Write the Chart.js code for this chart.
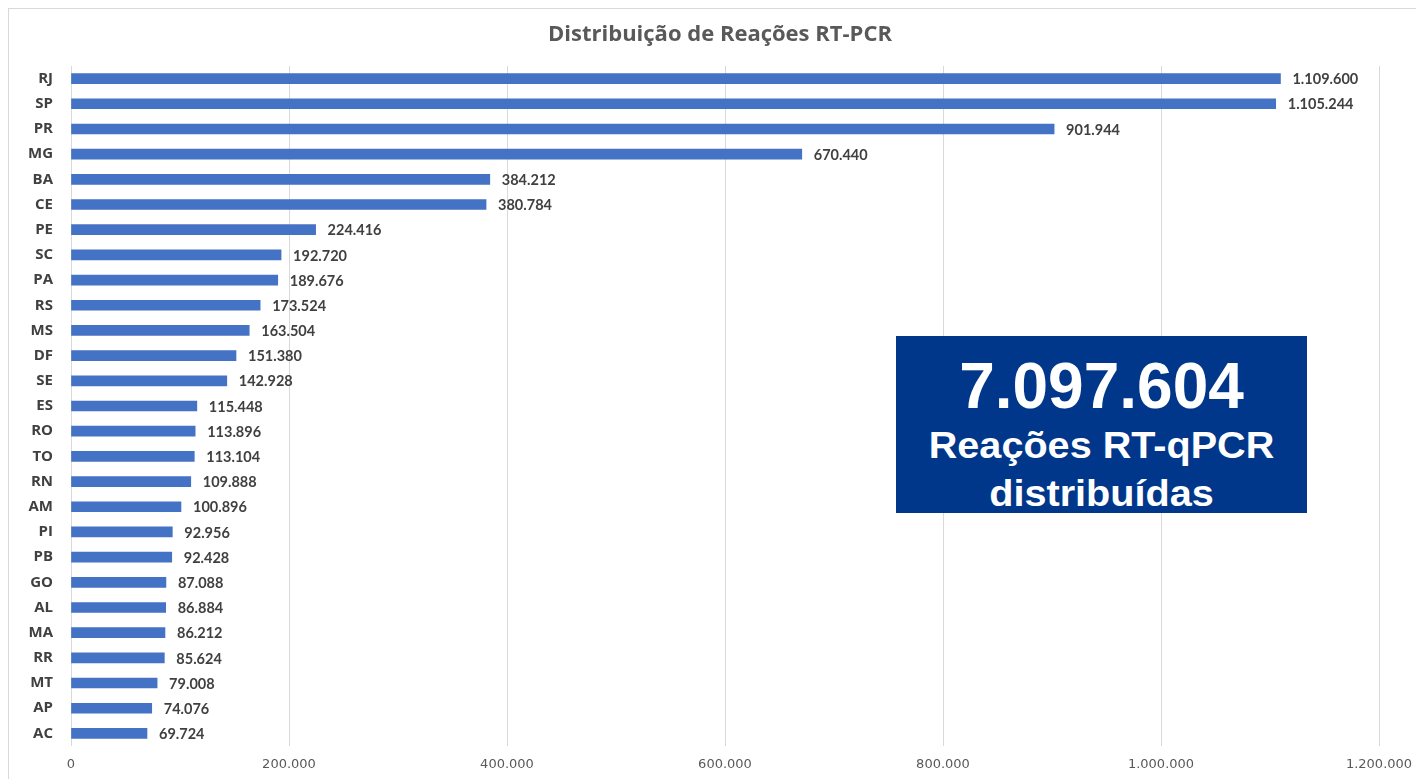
<!DOCTYPE html>
<html>
<head>
<meta charset="utf-8">
<script src="https://cdn.jsdelivr.net/npm/chart.js@4.4.1/dist/chart.umd.min.js"></script>
<style>
    body { margin: 0; background: #fff; }
    #wrap { position: relative; width: 1416px; height: 779px; overflow: hidden; }
    #frame { position: absolute; left: 8px; top: 8px; width: 1500px; height: 800px; border: 1px solid #d9d9d9; box-sizing: border-box; }
    #totalBox { position: absolute; left: 896px; top: 336px; width: 411px; height: 177px; background: #00378a; color: #fff;
        font-family: "Liberation Sans", Arial, sans-serif; font-weight: bold; text-align: center; overflow: hidden; }
    #totalBox .big { position: absolute; left: 0; right: 0; top: 18px; font-size: 64px; line-height: 64px; }
    #totalBox .small { position: absolute; left: 0; right: 0; font-size: 36px; line-height: 36px; transform: scaleX(1.1); }
</style>
</head>
<body>
<div id="wrap">
    <div id="frame"></div>
    <canvas id="reacoesChart"></canvas>
    <div id="totalBox">
        <div class="big" id="totalValue"></div>
        <div class="small" style="top:92px">Reações RT-qPCR</div>
        <div class="small" style="top:140px">distribuídas</div>
    </div>
</div>
<script>
// Dados por UF
const estados = ['RJ', 'SP', 'PR', 'MG', 'BA', 'CE', 'PE', 'SC', 'PA', 'RS', 'MS', 'DF', 'SE', 'ES',
    'RO', 'TO', 'RN', 'AM', 'PI', 'PB', 'GO', 'AL', 'MA', 'RR', 'MT', 'AP', 'AC'];
const reacoes = [1109600, 1105244, 901944, 670440, 384212, 380784, 224416, 192720, 189676, 173524, 163504,
    151380, 142928, 115448, 113896, 113104, 109888, 100896, 92956, 92428, 87088, 86884, 86212, 85624,
    79008, 74076, 69724];
const eixoX = [0, 200000, 400000, 600000, 800000, 1000000, 1200000];
const titulo = 'Distribuição de Reações RT-PCR';
const totalDistribuido = '7.097.604';

document.getElementById('totalValue').textContent = totalDistribuido;

function formatBR(v) {
    return v.toString().replace(/\B(?=(\d{3})+(?!\d))/g, '.');
}

// rótulos no fim das barras
const rotulosPlugin = {
    id: 'rotulos',
    afterDatasetsDraw(chart) {
        const ctx = chart.ctx;
        const meta = chart.getDatasetMeta(0);
        ctx.save();
        ctx.font = 'bold 14.5px Lato, sans-serif';
        ctx.fillStyle = '#404040';
        ctx.textBaseline = 'middle';
        ctx.textAlign = 'left';
        meta.data.forEach((bar, i) => {
            ctx.fillText(formatBR(reacoes[i]), bar.x + 12, bar.y + 1);
        });
        ctx.restore();
    }
};

// título centrado no quadro (não só na área do gráfico)
const tituloPlugin = {
    id: 'titulo',
    afterDraw(chart) {
        const ctx = chart.ctx;
        ctx.save();
        ctx.font = 'bold 22px "Open Sans", sans-serif';
        ctx.fillStyle = '#595959';
        ctx.textAlign = 'center';
        ctx.textBaseline = 'middle';
        ctx.fillText(titulo, 720, 35);
        ctx.restore();
    }
};

const ctx = document.getElementById('reacoesChart').getContext('2d');
new Chart(ctx, {
    type: 'bar',
    data: {
        labels: estados,
        datasets: [{
            data: reacoes,
            backgroundColor: '#4472c4',
            barThickness: 10
        }]
    },
    options: {
        indexAxis: 'y',
        responsive: true,
        maintainAspectRatio: false,
        animation: false,
        layout: { padding: { left: 0, right: 37, top: 66, bottom: 0 } },
        scales: {
            x: {
                min: 0,
                max: 1200000,
                afterBuildTicks: (scale) => { scale.ticks = eixoX.map(v => ({ value: v })); },
                afterFit: (scale) => { scale.height = 33; scale.paddingLeft = 0; scale.paddingRight = 0; },
                grid: { color: '#d9d9d9', drawTicks: false },
                border: { display: false },
                ticks: {
                    padding: 11,
                    color: '#595959',
                    font: { family: 'DejaVu Sans', size: 13 },
                    callback: (v) => formatBR(v)
                }
            },
            y: {
                afterFit: (scale) => { scale.width = 71; },
                grid: { display: false, drawTicks: false },
                border: { display: false },
                ticks: {
                    padding: 18,
                    color: '#404040',
                    font: { family: 'Open Sans', size: 15, weight: 'bold' }
                }
            }
        },
        plugins: {
            legend: { display: false },
            tooltip: { enabled: false },
            title: { display: false }
        }
    },
    plugins: [rotulosPlugin, tituloPlugin]
});
</script>
</body>
</html>
